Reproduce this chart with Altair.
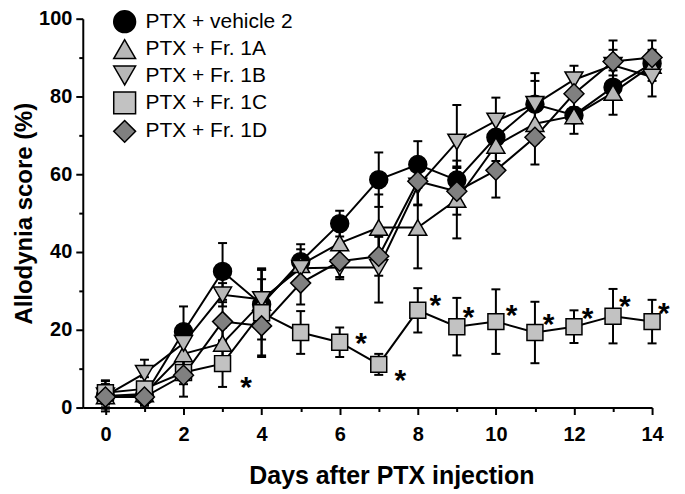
import altair as alt
import pandas as pd

days = list(range(15))
series_names = ["PTX + vehicle 2", "PTX + Fr. 1A", "PTX + Fr. 1B", "PTX + Fr. 1C", "PTX + Fr. 1D"]

vehicle_mean = [3, 3, 19.5, 35, 26.5, 37.5, 47.3, 58.6, 62.5, 58.5, 69.5, 78, 75.2, 82.4, 88.5]
vehicle_sem = [4, 3, 6.5, 7.3, 9, 4.5, 3.3, 7, 6, 3.5, 4, 8, 2, 3, 3]
fr1a_mean = [3, 3.5, 13.8, 16.5, 27, 36.7, 42.3, 46.3, 46.3, 53.5, 67.4, 73, 75, 81, 88]
fr1a_sem = [3, 3, 4, 4, 6, 4, 4, 8.5, 10.5, 10, 4, 5, 4.6, 5.7, 4]
fr1b_mean = [3, 8.8, 16.5, 29, 27.8, 35.8, 36, 36, 57, 68.3, 73.7, 78, 84.3, 88, 85]
fr1b_sem = [3, 3.5, 4, 3, 8, 3, 3, 9, 5, 9.5, 6, 6, 3.6, 4, 5]
fr1c_mean = [3.8, 4.8, 9, 11.3, 24.4, 19.3, 16.8, 11.1, 25, 20.8, 22.1, 19.3, 20.8, 23.5, 22.1]
fr1c_sem = [3, 3, 3, 6, 11, 5.5, 3.8, 2.7, 5.7, 7.4, 8.3, 7.9, 4.2, 7, 5.6]
fr1d_mean = [2.7, 2.7, 8.3, 22.1, 21, 32, 37.6, 38.9, 58.2, 55.6, 61, 69.5, 80.7, 89, 90]
fr1d_sem = [3, 2, 5.5, 5, 8, 5.5, 4, 5, 6, 6, 7, 7, 4, 5.4, 4.4]

# significance markers (day position, score level)
star_days = [3.6, 6.55, 7.55, 8.45, 9.3, 10.4, 11.35, 12.35, 13.3, 14.3]
star_levels = [7, 18.5, 8.8, 28.2, 25, 25.6, 23.3, 24.8, 27.8, 26]

x_tick_values = list(range(0, 15))
y_tick_values = list(range(0, 101, 10))

shape_range = ["circle", "triangle-up", "triangle-down", "square", "diamond"]
fill_range = ["#000000", "#b8b8b8", "#b8b8b8", "#c2c2c2", "#808080"]
marker_area = {"circle": 324, "triangle-up": 324, "triangle-down": 324, "square": 256, "diamond": 400}

means = [vehicle_mean, fr1a_mean, fr1b_mean, fr1c_mean, fr1d_mean]
sems = [vehicle_sem, fr1a_sem, fr1b_sem, fr1c_sem, fr1d_sem]
rows = []
for k, (name, m, s) in enumerate(zip(series_names, means, sems)):
    for d, v, e in zip(days, m, s):
        rows.append({"day": d, "value": v, "lo": v - e, "hi": v + e, "series": name, "k": k,
                     "sz": marker_area[shape_range[k]]})
df = pd.DataFrame(rows)
stars = pd.DataFrame({"day": star_days, "value": star_levels})

FONT = "Liberation Sans"
PLOT_H = 390

x_axis = alt.Axis(
    values=x_tick_values,
    labelExpr="datum.value % 2 === 0 ? datum.label : ''",
    tickSize={"condition": {"test": "datum.value % 2 === 0", "value": 7}, "value": 4},
    labelFontSize=20, labelFont=FONT, labelFontWeight="bold", labelColor="black",
    labelPadding=10, labelFlush=False, labelOverlap=False,
    domainColor="black", domainWidth=2, tickColor="black", tickWidth=2,
    grid=False,
    title="Days after PTX injection", titleFont=FONT, titleFontSize=25,
    titleFontWeight="bold", titleColor="black",
    titleX=309.5, titleY=76, titleBaseline="alphabetic", titleAnchor="middle",
)
y_axis = alt.Axis(
    values=y_tick_values,
    labelExpr="datum.value % 20 === 0 ? datum.label : ''",
    tickSize={"condition": {"test": "datum.value % 20 === 0", "value": 7}, "value": 4},
    labelFontSize=20, labelFont=FONT, labelFontWeight="bold", labelColor="black",
    labelPadding=4, labelFlush=False, labelOverlap=False,
    domainColor="black", domainWidth=2, tickColor="black", tickWidth=2,
    grid=False,
    title="Allodynia score (%)", titleFont=FONT, titleFontSize=24,
    titleFontWeight="bold", titleColor="black",
    titleX=-46, titleY=PLOT_H / 2, titleBaseline="bottom", titleAngle=-90,
)

xs = alt.Scale(domain=[-0.58, 14], nice=False, zero=False)
ys = alt.Scale(domain=[0, 100], nice=False)

X = alt.X("day:Q", scale=xs, axis=x_axis)
Y = alt.Y("value:Q", scale=ys, axis=y_axis)

legend = alt.Legend(
    orient="none", legendX=30, legendY=-9, title=None, padding=0,
    labelFont=FONT, labelFontSize=21, labelColor="black", labelLimit=400,
    symbolSize=480, symbolStrokeColor="black", symbolStrokeWidth=1.5,
    rowPadding=0.5, labelOffset=9,
)

base = alt.Chart(df)

err = base.mark_rule(color="black", strokeWidth=2).encode(
    x=X, y=alt.Y("lo:Q", scale=ys, axis=y_axis), y2="hi:Q"
)
cap_lo = base.mark_tick(color="black", thickness=2, size=9, orient="horizontal", opacity=1).encode(
    x=X, y=alt.Y("lo:Q", scale=ys, axis=y_axis)
)
cap_hi = base.mark_tick(color="black", thickness=2, size=9, orient="horizontal", opacity=1).encode(
    x=X, y=alt.Y("hi:Q", scale=ys, axis=y_axis)
)
lines = base.mark_line(color="black", strokeWidth=2).encode(
    x=X, y=Y, detail="series:N"
)
points = base.mark_point(filled=True, opacity=1, fillOpacity=1, strokeWidth=1.5).encode(
    x=X, y=Y,
    shape=alt.Shape("series:N", scale=alt.Scale(domain=series_names, range=shape_range), legend=legend),
    fill=alt.Fill("series:N", scale=alt.Scale(domain=series_names, range=fill_range), legend=legend),
    stroke=alt.Stroke("series:N", scale=alt.Scale(domain=series_names, range=["#000000"] * 5), legend=legend),
    size=alt.Size("sz:Q", scale=None),
    order=alt.Order("k:Q"),
)
star_text = alt.Chart(stars).mark_text(
    text="*", fontSize=30, fontWeight="bold", font=FONT, color="black", dy=8
).encode(x=X, y=Y)

chart = alt.layer(err, cap_lo, cap_hi, lines, points, star_text).properties(
    width=571, height=PLOT_H,
    autosize=alt.AutoSizeParams(type="none"),
    padding={"left": 75, "top": 10, "right": 25, "bottom": 90},
    background="white",
).configure_view(stroke=None).configure_legend(
    symbolStrokeColor="black", symbolStrokeWidth=1.5
)

chart.save("out.html", embed_options={"renderer": "svg", "actions": False})
